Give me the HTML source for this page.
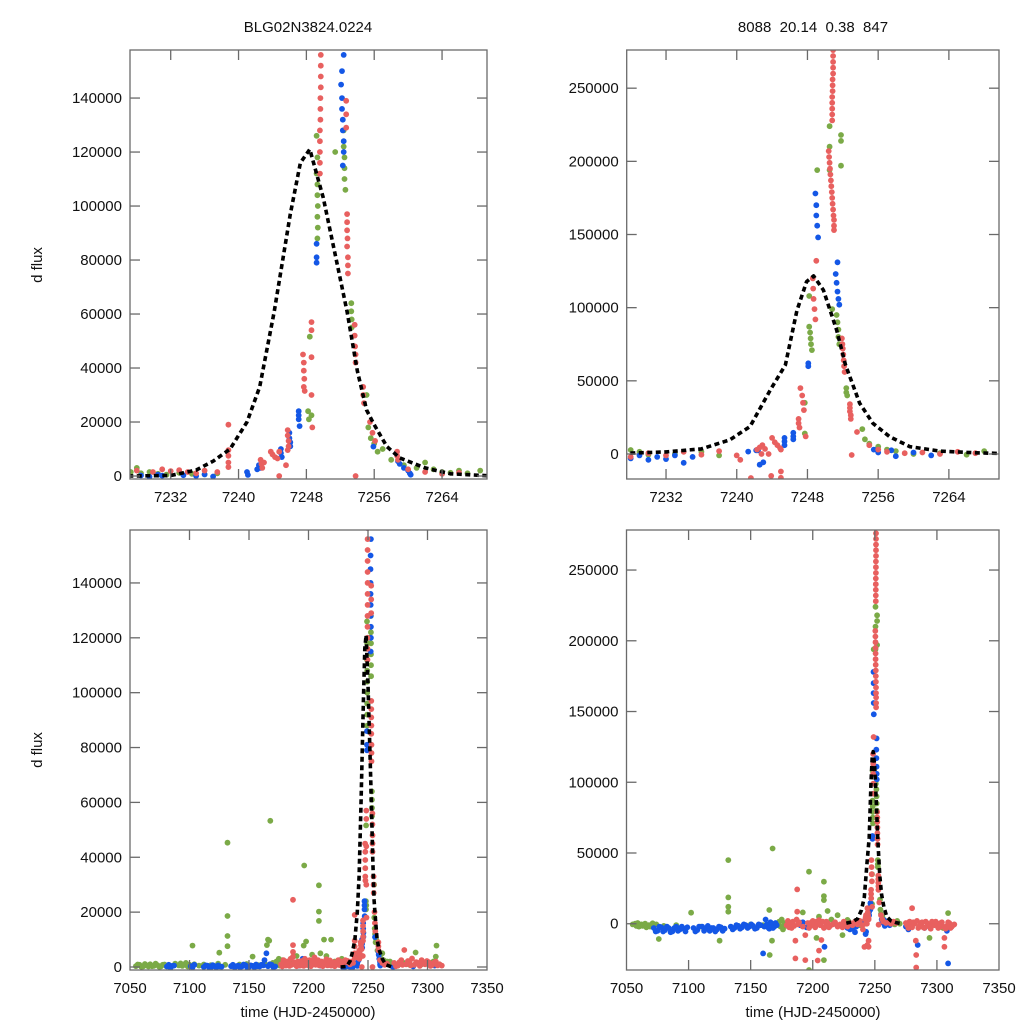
<!DOCTYPE html>
<html><head><meta charset="utf-8">
<style>
html,body{margin:0;padding:0;background:#fff;}
svg{display:block;font-family:"Liberation Sans",Arial,sans-serif;}
</style></head>
<body>
<svg id="chart" width="1024" height="1024" viewBox="0 0 1024 1024" xmlns="http://www.w3.org/2000/svg">
<rect x="0" y="0" width="1024" height="1024" fill="#fff"/>
<text x="308" y="32" font-size="15" text-anchor="middle" fill="#111">BLG02N3824.0224</text>
<text x="813" y="32" font-size="15" text-anchor="middle" fill="#111" xml:space="preserve">8088  20.14  0.38  847</text>
<text transform="translate(42,265) rotate(-90)" font-size="15" text-anchor="middle" fill="#111">d flux</text>
<text transform="translate(42,750) rotate(-90)" font-size="15" text-anchor="middle" fill="#111">d flux</text>
<text x="308" y="1017" font-size="15" text-anchor="middle" fill="#111">time (HJD-2450000)</text>
<text x="813" y="1017" font-size="15" text-anchor="middle" fill="#111">time (HJD-2450000)</text>
</svg>
<script>
// ---- data: left reduction (left panels) ----
const leftRedPts = [[7177,1000],[7178,200],[7179,2500],[7180,1200],[7181,500],[7182,2000],[7183,1500],[7184,400],[7185,3000],[7186,800],[7187,24500],[7187,8000],[7187,5500],[7187,3800],[7188,1800],[7189,1200],[7190,300],[7191,2000],[7192,1000],[7193,500],[7194,2200],[7195,1500],[7196,400],[7197,3000],[7198,1500],[7199,700],[7200,1800],[7201,2500],[7202,300],[7203,1000],[7204,2200],[7205,3500],[7206,800],[7207,1500],[7208,2500],[7209,600],[7210,1400],[7211,2000],[7212,300],[7213,1000],[7214,1800],[7215,2800],[7216,600],[7217,1200],[7218,2400],[7219,500],[7220,1200],[7221,1800],[7222,300],[7223,800],[7224,1600],[7225,2500],[7226,700],
[7228,2000],[7229.9,1500],[7231,2500],[7232,1800],[7233,2200],[7234,1500],[7235,1000],[7236,2000],[7237.5,1500],[7238.8,19000],[7238.8,9600],[7238.8,7500],[7238.8,5000],[7238.8,3300],
[7242.6,6000],[7242.7,4500],[7242.8,3000],[7243,5000],[7243.8,9000],[7244,8000],[7244.3,7000],[7244.6,6500],[7244.8,9000],[7244.8,0],[7245.6,4000],[7245.8,17000],[7245.8,15000],[7245.9,13000],[7245.9,11000],[7245.8,9600],
[7247.6,45000],[7247.7,42000],[7247.7,39000],[7247.75,36000],[7247.7,33000],[7247.8,31500],[7248.6,57000],[7248.6,54000],[7248.6,44000],[7248.6,30000],[7248.7,18000],
[7249.6,112000],[7249.6,116000],[7249.6,120000],[7249.6,124000],[7249.6,128000],[7249.65,132000],[7249.65,136000],[7249.65,140000],[7249.7,144000],[7249.7,148000],[7249.7,152000],[7249.7,156000],[7249.7,160000],
[7252.7,139000],[7252.7,134000],[7252.7,129000],[7252.8,97000],[7252.8,94000],[7252.8,91000],[7252.85,88000],[7252.8,85000],[7252.9,81000],[7252.9,78000],[7252.9,75000],
[7253.7,56000],[7253.7,52000],[7253.75,48000],[7253.8,45000],[7253.8,42000],[7254.7,33000],[7254.7,30000],[7254.8,27000],[7255.5,20000],[7255.8,16000],[7256.1,13000],[7253.8,0],[7258.7,9000],[7258.7,7500],[7258.8,6000],[7260,2500],[7262,1500],[7264,800],[7266,1200],
[7272,1500],[7273.5,300],[7275,500],[7276.5,1800],[7278,2500],[7279,800],[7280.5,6200],[7282,1000],[7283.5,2200],[7285,2000],[7286,600],[7287,3100],[7289,800],[7290.5,1800],[7292,1500],[7293.5,400],[7295,2500],[7296.5,1200],[7298,1000],[7299.5,2200],[7301,1800],[7302.5,400],[7304,700],[7305.5,1600],[7307,2000],[7308.5,600],[7310,1000],[7312,500]];

const leftGreenPts = [[7055,300],[7056.5,900],[7058,800],[7059.5,100],[7061,200],[7062.5,1100],[7064,600],[7065.5,200],[7067,1000],[7068.5,300],[7070,400],[7071.5,1200],[7073,700],[7074.5,100],[7076,200],[7077.5,800],[7079,900],[7080.5,300],[7082,500],[7085,300],[7088,1200],[7091,600],[7092.5,1300],[7094,400],[7095.5,900],[7097,1500],[7098.5,200],[7100,800],[7102.5,7800],[7104,1000],[7108,500],[7112,900],[7118,700],[7124,1200],[7125,5200],[7130,800],[7131.9,45300],[7131.9,18600],[7131.9,11300],[7131.9,7600],[7136,600],[7142,900],[7148,1100],[7153,3800],[7158,700],[7163,1500],[7165,8000],[7166,10000],[7167,9600],[7167.9,53300],[7170,1500],[7173,2000],[7174,1000],[7175,3000],[7176,500],[7177,1500],[7178,2500],[7185,2000],[7190,4000],[7193,1000],[7196.4,37000],[7196,7800],[7198,9300],[7200,2000],[7203,4500],[7205,3000],[7208.7,29800],[7208.7,20200],[7208.7,16800],[7210,5000],[7213,10000],[7215,4000],[7219,10000],[7222,2000],[7225,1500],
[7227.3,1500],[7228,3000],[7228.5,1000],[7229.5,1500],[7230.5,800],[7231.5,500],[7233,1200],[7234.5,800],[7236,600],[7237.5,1000],
[7248.2,24000],[7248.3,21000],[7248.4,51600],[7248.6,22500],
[7249.2,126000],[7249.2,112000],[7249.3,108000],[7249.3,104000],[7249.35,100000],[7249.3,96000],[7249.35,92000],[7249.3,88000],[7249.3,118000],
[7251.4,120000],[7252.4,128000],[7252.4,122000],[7252.5,118000],[7252.5,114000],[7252.5,110000],[7252.6,106000],
[7253.3,64000],[7253.3,61000],[7253.35,58000],[7253.35,55000],[7255.1,30000],[7255.3,18000],[7255.6,14000],[7256,12000],[7256.4,9000],
[7257,10000],[7258,6000],[7259.5,4000],[7261,3000],[7262,5000],[7263,2500],[7264,1500],[7265,1200],[7266,2000],[7267,1000],[7268.5,2000],
[7270,1000],[7275,500],[7280,1500],[7285,800],[7290,5300],[7295,1000],[7300,1500],[7305,2000],[7307.6,7800],[7307,3800],[7310,1000]];

const leftBluePts = [[7081,200],[7082.5,800],[7084,-300],[7085.5,400],[7087,500],[7101,300],[7102.5,-200],[7104,800],[7112,0],[7113.5,600],[7115,500],[7116.5,-100],[7118,-200],[7119.5,700],[7121,300],[7122.5,-200],[7124,600],[7125.5,200],[7127,100],[7135,300],[7136.5,800],[7138,-200],[7139.5,300],[7141,500],[7142.5,-100],[7144,200],[7145.5,900],[7147,700],[7148.5,-200],[7150,0],[7151.5,600],[7153,400],[7154.5,-100],[7156,900],[7157.5,300],[7159,200],[7160.5,800],[7162,600],[7164.6,5000],[7163,2500],[7166,300],[7167.5,1000],[7169,800],[7170.5,-100],[7172,200],[7192,500],[7193.9,1900],[7195,3000],[7210,500],[7213,1000],
[7228.5,200],[7229.5,-300],[7230.5,500],[7231,100],[7233.5,300],[7235,0],[7236,600],[7237,-200],
[7241,1500],[7241.1,400],[7242.2,2500],[7242.4,4000],[7242.6,3000],[7245,10000],[7245,8500],[7245.1,7000],[7246,16000],[7246,14000],[7246.1,12500],[7246.1,11000],[7247.1,24000],[7247.1,22500],[7247.1,21000],[7247.2,18500],
[7249.2,86000],[7249.2,81000],[7249.2,79000],[7249.7,160000],[7249.7,165000],
[7252.1,145000],[7252.2,140000],[7252.2,136000],[7252.3,132000],[7252.3,128000],[7252.4,124000],[7252.4,120000],[7252.2,150000],[7252.4,156000],[7252.3,115000],
[7255.9,10900],[7258.8,5500],[7259,4500],[7259.5,3000],[7260,2000],[7260.2,1000],[7260.3,500],[7271,0],[7273,300],[7288,200],[7306,500]];

// ---- data: right reduction (right panels) ----
const rightRedPts = [[7179,-1000],[7180,2000],[7181,-2500],[7182,500],[7183,-3000],[7184,1500],[7185,-1500],[7186,-24500],[7186,-12000],[7187,3000],[7187.5,24300],[7187.5,8500],[7188,-500],[7189,1000],[7192,-2000],[7194,-25700],[7194,-8000],[7196,500],[7197,-3000],[7198,-1500],[7199,1000],[7200,2000],[7201,-500],[7202,-2500],[7203,1500],[7204,0],[7205,2500],[7206,-1000],[7208,1500],[7207,-11500],[7204,-26000],[7205,-19000],[7209,-3000],[7210,-2000],[7211,1500],[7212,500],[7213,-2500],[7214,-1500],[7216,-500],[7218,1000],[7220,-2000],[7222,-500],[7224,-2500],[7225,1500],[7226,-1000],[7228,-2000],[7230,500],[7232,-1000],[7234,1500],[7236,-500],[7238,2000],[7240,-1000],[7240.4,-4000],[7241.6,-16400],[7245,-16300],[7245,-12000],
[7242.3,3000],[7242.6,4500],[7242.9,6000],[7243.2,3500],[7242.8,0],[7243.6,0],[7243.9,-15000],[7244,11000],[7244.3,8000],[7244.6,6000],[7244.9,4000],[7245,3000],
[7247,24000],[7247,21000],[7247.1,18000],[7247.2,45000],[7247.4,40000],[7247.5,35000],[7247.6,30000],[7247.8,12000],
[7248.6,120000],[7248.65,113000],[7248.7,106000],[7248.8,99000],[7248.9,92000],[7249,132000],
[7250.4,207000],[7250.45,203000],[7250.5,199000],[7250.55,195000],[7250.6,191000],[7250.65,187000],[7250.7,183000],[7250.75,179000],[7250.8,175000],[7250.85,171000],[7250.9,167000],[7250.95,163000],[7251,160000],[7251,156000],[7251,153000],
[7250.8,228000],[7250.8,232000],[7250.8,236000],[7250.8,240000],[7250.8,244000],[7250.85,248000],[7250.85,252000],[7250.85,256000],[7250.9,260000],[7250.9,264000],[7250.9,268000],[7250.9,272000],[7250.9,276000],
[7251.9,79000],[7251.95,75000],[7252,72000],[7252.05,68000],[7252.1,64000],[7252.15,60000],[7252.2,56000],[7252.8,34000],[7252.8,31500],[7252.8,29000],[7252.9,26500],[7252.9,24000],[7253.6,15000],[7253,-700],[7255,6000],[7256,3000],[7257,1500],[7259,500],[7261,1000],[7263,0],[7265,1500],[7267,500],
[7275,500],[7276,-1000],[7277,-3000],[7278,1500],[7279,-500],[7280,-2500],[7280,11000],[7281,1000],[7282,0],[7283.3,-22100],[7283.3,-30900],[7283,-12000],[7284,2000],[7285,-3000],[7286,-1500],[7287,500],[7288,1000],[7289,-2500],[7290,-3000],[7291,1500],[7292,500],[7293,-1000],[7294,-2000],[7295,-3500],[7296,1500],[7297,-500],[7298,-1000],[7299,1500],[7300,0],[7301,-3000],[7302,-2500],[7303,500],[7304,1000],[7305,-2000],[7306,-16300],[7306,-10000],[7307,-3500],[7308,-1500],[7309,1000],[7310,500],[7311,-3000],[7312,-2000],[7313,-1000],[7314,-500]];

const rightGreenPts = [[7055,-500],[7057,0],[7058,-1500],[7059,500],[7060,-2000],[7062,-500],[7063,-1500],[7065,0],[7066,-2500],[7068,-1000],[7069,-2000],[7071,300],[7074,-500],[7076,-10800],[7080,-1500],[7090,-1000],[7102,7800],[7110,-2000],[7125,-12000],[7132,45000],[7132,18600],[7132,12000],[7132,8500],[7140,-1500],[7150,-500],[7160,-1000],[7165,9700],[7167.2,-12000],[7165.3,-22100],[7167.7,53200],[7173,1500],[7174,-2000],[7175,3000],[7176,-4000],[7177,500],[7178,-1500],[7192,8000],[7197,36800],[7197,-32700],[7203,-10000],[7205,5000],[7209,29700],[7209,19500],[7209,16700],[7209,-25700],[7212,9000],[7215,3000],[7220,6000],[7224,-8000],[7228,2700],[7229,1500],[7230,-500],[7233,0],[7236,1500],[7238,-1000],
[7247.7,35000],[7247.7,14000],[7248.2,87000],[7248.3,83000],[7248.35,79000],[7248.4,75000],[7248.5,71000],[7248.2,108000],[7249.1,194000],[7250.5,224000],[7250.5,210000],[7250.5,194000],[7251.8,218000],[7251.8,214000],[7251.8,197000],[7250.8,99000],[7251.3,95000],[7251.4,90000],[7251.5,85000],[7251.5,80000],[7251.6,75000],[7252.4,45000],[7252.4,42000],[7252.5,40000],[7254.2,17000],[7254.5,10000],[7255,7000],[7256,5000],[7257,3000],[7258,2000],[7260,0],[7263,500],[7266,-500],[7268,2000],[7270,0],[7294,-10000],[7300,0],[7305,-3000],[7309,7500],[7312,-1000]];

const rightBluePts = [[7072,-3000],[7073.5,-5500],[7075,-5000],[7076.5,-2000],[7078,-2500],[7079.5,-5500],[7081,-4500],[7082.5,-2000],[7084,-3000],[7085.5,-6000],[7087,-5500],[7088.5,-3000],[7090,-2000],[7091.5,-5000],[7093,-4000],[7094.5,-2000],[7096,-3500],[7097.5,-5500],[7099,-2500],[7104,-3000],[7105.5,-5500],[7107,-4500],[7108.5,-2000],[7111,-2000],[7112.5,-5000],[7114,-3500],[7115.5,-1500],[7117,-5000],[7118.5,-3000],[7120,-3000],[7121.5,-5500],[7123,-4000],[7124.5,-2000],[7126,-2500],[7127.5,-5000],[7129,-3500],[7134,-2000],[7135.5,-4000],[7137,-3000],[7138.5,-1000],[7140,-1500],[7141.5,-3500],[7143,-2500],[7144.5,-500],[7146,-1000],[7147.5,-3000],[7149,-2000],[7150.5,-500],[7152,-1500],[7153.5,-3500],[7155,-3000],[7156.5,-500],[7158,-1000],[7160,-21000],[7161,-2000],[7162,3000],[7163,-500],[7164,-2500],[7165,-3500],[7166,1000],[7167,0],[7168,-3000],[7169,-2000],[7170,500],[7171,-1000],[7190,-1000],[7192,1000],[7195,-2500],[7198,0],[7209.5,-16300],[7212,-2000],[7217,0],[7220,-1500],[7228,-3000],[7229,-1000],[7230,-4000],[7231,-2000],[7232,-3500],[7233,-1000],[7234,-6000],[7235,-2000],[7243,-5700],
[7241.3,1600],[7242.2,2500],[7242.4,2500],[7242.6,-7300],[7245.4,11000],[7245.4,8500],[7245.4,6000],[7246.4,14500],[7246.4,12000],[7246.4,10000],[7248.1,62000],[7248.1,60000],[7248.9,178000],[7249,170000],[7249,163000],[7249.1,156000],[7249.2,148000],[7251.4,131000],[7251.2,123000],[7251.3,117000],[7251.4,111000],[7251.5,106000],[7251.6,102000],[7255.5,3000],[7256,1000],[7257.5,2500],[7258,-1500],[7260,1000],[7262,-1000],[7275,-2000],[7277,-4000],[7279,-1000],[7284.5,-15000],[7290,-3000],[7309,-28000],[7308,-5000]];

// ---- model curves ----
const leftModelT = [7227,7232,7235,7237,7239,7241,7242.5,7244.2,7246.1,7247.3,7248.4,7250,7251.6,7252.8,7254,7255.1,7256,7257.5,7259,7262,7265,7270];
const leftModelF = [0,200,2200,5500,10000,20000,33000,60850,97000,116000,121000,103000,79000,60850,39000,24400,19000,10900,6700,3000,800,0];
const rightModelT = [7227,7228,7232,7236,7239.2,7241.5,7243.8,7245.5,7246.8,7247.9,7248.7,7249.8,7251.3,7252.3,7253.9,7255.4,7257.3,7259.6,7263,7267,7270];
const rightModelF = [400,600,1400,3500,9600,18700,43700,60850,98000,117800,121700,112000,84800,60850,34800,21000,11800,5000,2000,800,300];

// ---- tick labels ----
const zoomTicks = [7232,7240,7248,7256,7264];
const wideTicks = [7050,7100,7150,7200,7250,7300,7350];
const leftFluxTicks = [0,20000,40000,60000,80000,100000,120000,140000];
const rightFluxTicks = [0,50000,100000,150000,200000,250000];

const COLORS = {red:'#E8605F', green:'#7BAA47', blue:'#1457E6'};
const NS = 'http://www.w3.org/2000/svg';
const svg = document.getElementById('chart');

const panels = [
 {name:'top-left', x0:130, x1:487, y0:50, y1:479, tmin:7227.2, tmax:7269.3, fmin:-1110, fmax:157800, xt:zoomTicks, yt:leftFluxTicks, set:'left'},
 {name:'top-right', x0:626.7, x1:999, y0:50, y1:479, tmin:7227.55, tmax:7269.67, fmin:-17100, fmax:276100, xt:zoomTicks, yt:rightFluxTicks, set:'right'},
 {name:'bottom-left', x0:130, x1:487, y0:530, y1:970, tmin:7050, tmax:7350, fmin:-1094, fmax:159300, xt:wideTicks, yt:leftFluxTicks, set:'left'},
 {name:'bottom-right', x0:626.5, x1:999, y0:530, y1:970, tmin:7050, tmax:7350, fmin:-32700, fmax:278300, xt:wideTicks, yt:rightFluxTicks, set:'right'}
];

function mk(tag, attrs){ const e=document.createElementNS(NS,tag); for(const k in attrs) e.setAttribute(k,attrs[k]); return e; }

panels.forEach((p,i)=>{
  const sx = t => p.x0 + (t-p.tmin)/(p.tmax-p.tmin)*(p.x1-p.x0);
  const sy = f => p.y1 - (f-p.fmin)/(p.fmax-p.fmin)*(p.y1-p.y0);
  const g = mk('g',{});
  
  
  svg.appendChild(g);
  const defs = mk('defs',{});
  const cp = mk('clipPath',{id:'clip'+i});
  cp.appendChild(mk('rect',{x:p.x0,y:p.y0,width:p.x1-p.x0,height:p.y1-p.y0}));
  defs.appendChild(cp); g.appendChild(defs);
  const plot = mk('g',{'clip-path':'url(#clip'+i+')'});
  g.appendChild(plot);
  const sets = p.set==='left'
    ? [['green',leftGreenPts],['blue',leftBluePts],['red',leftRedPts]]
    : [['green',rightGreenPts],['blue',rightBluePts],['red',rightRedPts]];
  sets.forEach(([col,pts])=>{
    const sg = mk('g',{fill:COLORS[col]});
    
    
    plot.appendChild(sg);
    pts.forEach(pt=>{
      const c = mk('circle',{cx:sx(pt[0]).toFixed(1), cy:sy(pt[1]).toFixed(1), r:2.9});
      
      
      sg.appendChild(c);
    });
  });
  const mt = p.set==='left'?leftModelT:rightModelT;
  const mf = p.set==='left'?leftModelF:rightModelF;
  let d='';
  for(let k=0;k<mt.length;k++){ d += (k?'L':'M')+sx(mt[k]).toFixed(1)+','+sy(mf[k]).toFixed(1); }
  const path = mk('path',{d:d, fill:'none', stroke:'#000','stroke-width':3.6,'stroke-dasharray':'5,3.5','stroke-linejoin':'round'});
  
  
  plot.appendChild(path);
  const fr = mk('rect',{x:p.x0,y:p.y0,width:p.x1-p.x0,height:p.y1-p.y0,fill:'none',stroke:'#6a6a6a','stroke-width':1.3});
  
  
  g.appendChild(fr);
  p.xt.forEach(t=>{
    const x=sx(t);
    if(x>p.x0+2 && x<p.x1-2){
      g.appendChild(mk('line',{x1:x,x2:x,y1:p.y1,y2:p.y1-10,stroke:'#6a6a6a','stroke-width':1.3}));
      g.appendChild(mk('line',{x1:x,x2:x,y1:p.y0,y2:p.y0+10,stroke:'#6a6a6a','stroke-width':1.3}));
    }
    const lab = mk('text',{x:x,y:p.y1+23,'font-size':15,'text-anchor':'middle',fill:'#111'});
    lab.textContent=t;
    
    
    g.appendChild(lab);
  });
  p.yt.forEach(f=>{
    const y=sy(f);
    g.appendChild(mk('line',{x1:p.x0,x2:p.x0+10,y1:y,y2:y,stroke:'#6a6a6a','stroke-width':1.3}));
    g.appendChild(mk('line',{x1:p.x1,x2:p.x1-10,y1:y,y2:y,stroke:'#6a6a6a','stroke-width':1.3}));
    const lab = mk('text',{x:p.x0-8,y:y+5,'font-size':15,'text-anchor':'end',fill:'#111'});
    lab.textContent=f;
    
    
    g.appendChild(lab);
  });
});
</script>
</body></html>
